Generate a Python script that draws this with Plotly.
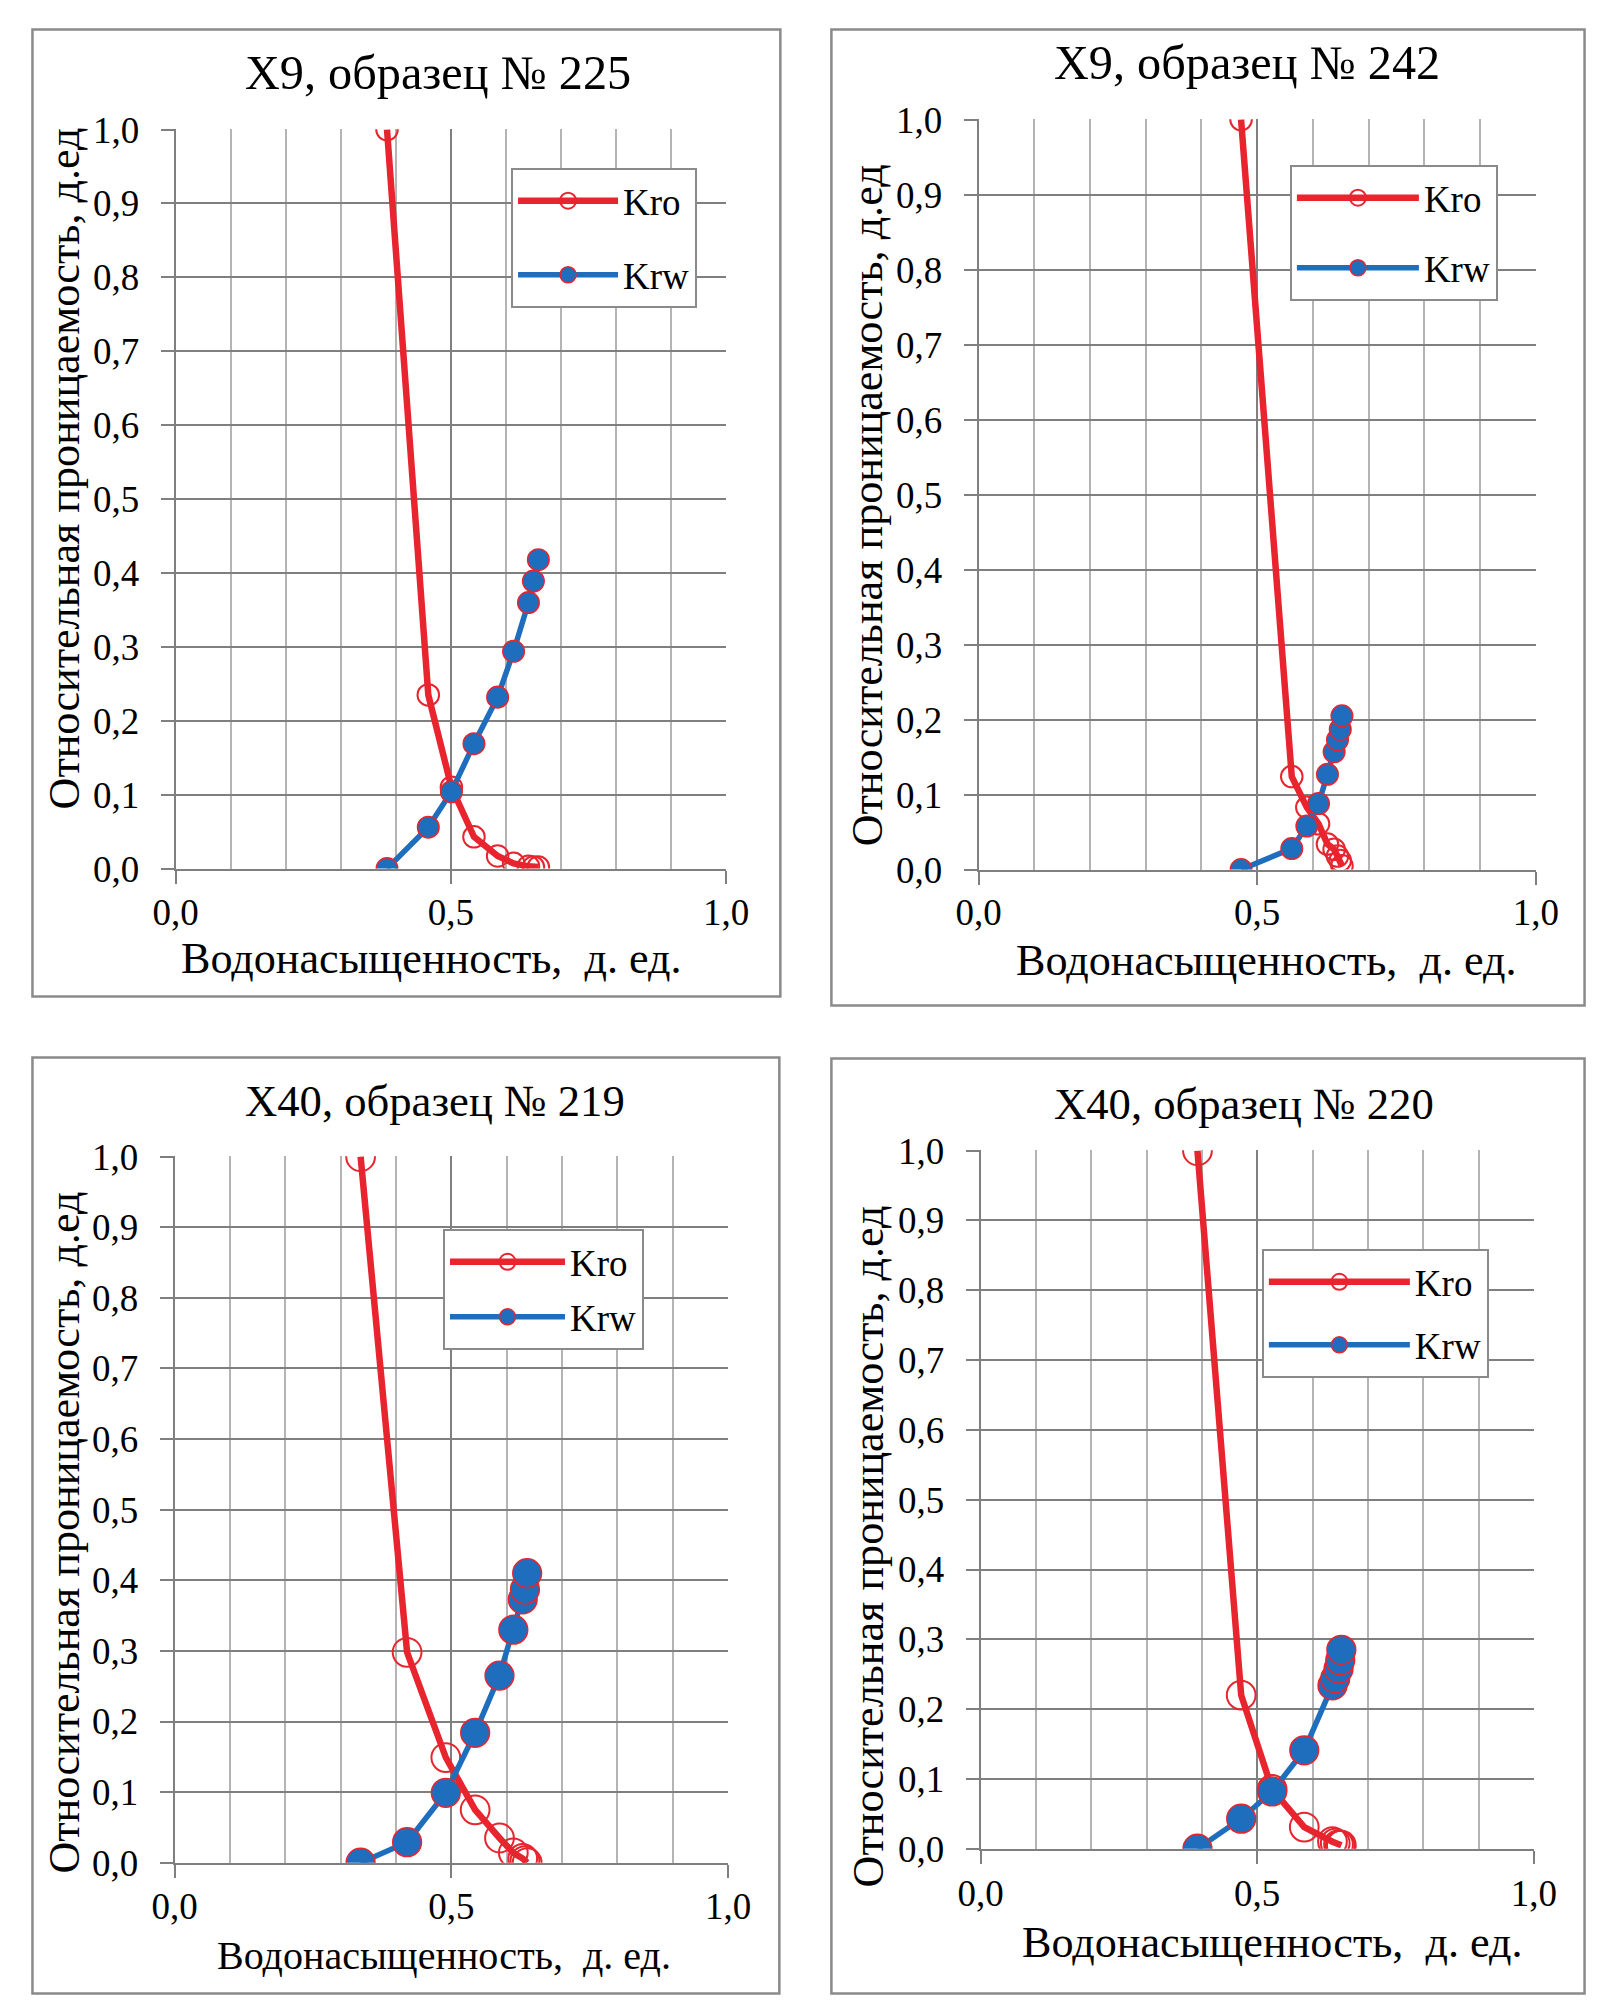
import plotly.graph_objects as go

W, H = 1601, 2013

# --- данные: водонасыщенность и относительные проницаемости ---
# X9, образец № 225
sw_225 = [0.384, 0.459, 0.501, 0.542, 0.585, 0.614, 0.641, 0.650, 0.659]
kro_225 = [1.0, 0.235, 0.110, 0.043, 0.017, 0.007, 0.003, 0.002, 0.002]
krw_225 = [0.0, 0.056, 0.104, 0.169, 0.232, 0.294, 0.360, 0.389, 0.418]

# X9, образец № 242
sw_242 = [0.471, 0.562, 0.589, 0.610, 0.626, 0.638, 0.644, 0.649, 0.652]
kro_242 = [1.0, 0.124, 0.083, 0.061, 0.034, 0.027, 0.018, 0.012, 0.005]
krw_242 = [0.0, 0.028, 0.058, 0.088, 0.127, 0.157, 0.173, 0.187, 0.205]

# X40, образец № 219
sw_219 = [0.336, 0.420, 0.490, 0.543, 0.587, 0.612, 0.629, 0.633, 0.637]
kro_219 = [1.0, 0.298, 0.149, 0.075, 0.035, 0.014, 0.006, 0.003, 0.0]
krw_219 = [0.0, 0.029, 0.099, 0.184, 0.265, 0.330, 0.373, 0.387, 0.410]

# X40, образец № 220
sw_220 = [0.392, 0.471, 0.527, 0.585, 0.636, 0.641, 0.647, 0.650, 0.652]
kro_220 = [1.0, 0.220, 0.085, 0.031, 0.010, 0.008, 0.006, 0.005, 0.005]
krw_220 = [0.0, 0.043, 0.082, 0.141, 0.234, 0.244, 0.258, 0.270, 0.285]

titles = ["X9, образец № 225", "X9, образец № 242",
          "X40, образец № 219", "X40, образец № 220"]
y_title = "Относительная проницаемость, д.ед"
x_title = "Водонасыщенность,  д. ед."
series_names = ["Kro", "Krw"]

RED = "#e8242e"
BLUE = "#1f6ebe"
GRID = "#7f7f7f"
GRID_MINOR = "#b4b4b4"
FRAME = "#8a8a8a"
FONT = "Liberation Serif"

# поправка на поля страницы при снимке (пиксели макета -> пиксели фигуры)
AX, BX = 1.0307, -31.4
AY, BY = 1.0199, -26.2
K = 1.027  # масштаб шрифтов и маркеров

# положение панелей в пикселях картинки (лево, верх, право, низ)
panels = [
    dict(sw=sw_225, kro=kro_225, krw=krw_225,
         frame=(24, 14, 779, 995), plot=(175, 127, 725, 867),
         title=(437, 70), tfs=47, ytitle=(64, 467), xtitle=(431, 957), xfs=43,
         legend=(510, 166), lgap=23, lw=100, ms=21, xstand=-3),
    dict(sw=sw_242, kro=kro_242, krw=krw_242,
         frame=(830, 14, 1584, 1004), plot=(977, 117, 1534, 868),
         title=(1245, 60), tfs=47, ytitle=(866, 503), xtitle=(1265, 959), xfs=43,
         legend=(1288, 163), lgap=19, lw=122, ms=21, xstand=-4),
    dict(sw=sw_219, kro=kro_219, krw=krw_219,
         frame=(24, 1056, 778, 1993), plot=(174, 1155, 727, 1862),
         title=(434, 1100), tfs=43.5, ytitle=(64, 1532), xtitle=(443, 1955), xfs=39,
         legend=(442, 1228), lgap=4, lw=115, ms=28, xstand=-3),
    dict(sw=sw_220, kro=kro_220, krw=krw_220,
         frame=(830, 1057, 1586, 1993), plot=(979, 1149, 1532, 1848),
         title=(1242, 1103), tfs=43.5, ytitle=(868, 1545), xtitle=(1271, 1942), xfs=43,
         legend=(1260, 1248), lgap=12, lw=141, ms=28, xstand=-2),
]


def px(x):
    return min(max(AX * x + BX, 1.5), W - 1.5) / W


def py(y):
    return 1 - min(max(AY * y + BY, 1.5), H - 1.5) / H


fig = go.Figure()
layout = dict(
    width=W, height=H,
    margin=dict(l=0, r=0, t=0, b=0),
    paper_bgcolor="white", plot_bgcolor="white",
    separators=", ",
    font=dict(family=FONT, size=32, color="black"),
    showlegend=True,
)
shapes = []
annotations = []

for i, p in enumerate(panels):
    n = "" if i == 0 else str(i + 1)
    xa, ya, lg = "x" + n, "y" + n, "legend" + n

    fig.add_trace(go.Scatter(
        x=p["sw"], y=p["kro"], name=series_names[0], mode="lines+markers",
        xaxis=xa, yaxis=ya, legend=lg, legendgroup="kro" + n,
        line=dict(color=RED, width=6.5),
        marker=dict(symbol="circle-open", size=p["ms"] * K,
                    line=dict(color=RED, width=2)),
    ))
    fig.add_trace(go.Scatter(
        x=p["sw"], y=p["krw"], name=series_names[1], mode="lines+markers",
        xaxis=xa, yaxis=ya, legend=lg, legendgroup="krw" + n,
        line=dict(color=BLUE, width=5.5),
        marker=dict(symbol="circle", size=p["ms"] * K, color=BLUE,
                    line=dict(color=RED, width=1.5)),
    ))

    left, top, right, bottom = p["plot"]
    layout["xaxis" + n] = dict(
        domain=[px(left), px(right)], anchor=ya, range=[0, 1.0005],
        dtick=0.5, tickformat=".1f", showgrid=True, gridcolor=GRID, gridwidth=2,
        minor=dict(dtick=0.1, showgrid=True, gridcolor=GRID_MINOR, gridwidth=1.5),
        showline=True, linecolor=GRID, linewidth=2, zeroline=False,
        ticks="outside", ticklen=13, tickwidth=2, tickcolor=GRID,
        ticklabelstandoff=p["xstand"],
        tickfont=dict(family=FONT, size=36 * K, color="black"),
        fixedrange=True,
    )
    layout["yaxis" + n] = dict(
        domain=[py(bottom), py(top)], anchor=xa, range=[0, 1.0005],
        dtick=0.1, tickformat=".1f", showgrid=True, gridcolor=GRID, gridwidth=2,
        showline=True, linecolor=GRID, linewidth=2, zeroline=False,
        ticks="outside", ticklen=13, tickwidth=2, tickcolor=GRID,
        ticklabelstandoff=14,
        tickfont=dict(family=FONT, size=36 * K, color="black"),
        fixedrange=True,
    )
    lx, ly = p["legend"]
    layout["legend" + n] = dict(
        x=px(lx), y=py(ly), xanchor="left", yanchor="top",
        bgcolor="white", bordercolor=FRAME, borderwidth=2,
        font=dict(family=FONT, size=36 * K), tracegroupgap=p["lgap"],
        itemwidth=p["lw"], traceorder="grouped",
    )

    fx0, fy0, fx1, fy1 = p["frame"]
    shapes.append(dict(type="rect", xref="paper", yref="paper",
                       x0=px(fx0), y0=py(fy0), x1=px(fx1), y1=py(fy1),
                       line=dict(color=FRAME, width=2.5), layer="below"))

    tx, ty = p["title"]
    annotations.append(dict(text=titles[i], xref="paper", yref="paper",
                            x=px(tx), y=py(ty), showarrow=False,
                            xanchor="center", yanchor="middle",
                            font=dict(size=p["tfs"] * K)))
    yx, yy = p["ytitle"]
    annotations.append(dict(text=y_title, xref="paper", yref="paper",
                            x=px(yx), y=py(yy), showarrow=False, textangle=-90,
                            xanchor="center", yanchor="middle",
                            font=dict(size=43 * K)))
    xx, xy = p["xtitle"]
    annotations.append(dict(text=x_title, xref="paper", yref="paper",
                            x=px(xx), y=py(xy), showarrow=False,
                            xanchor="center", yanchor="middle",
                            font=dict(size=p["xfs"] * K)))

layout["shapes"] = shapes
layout["annotations"] = annotations
fig.update_layout(**layout)

fig.write_html("out.html")
